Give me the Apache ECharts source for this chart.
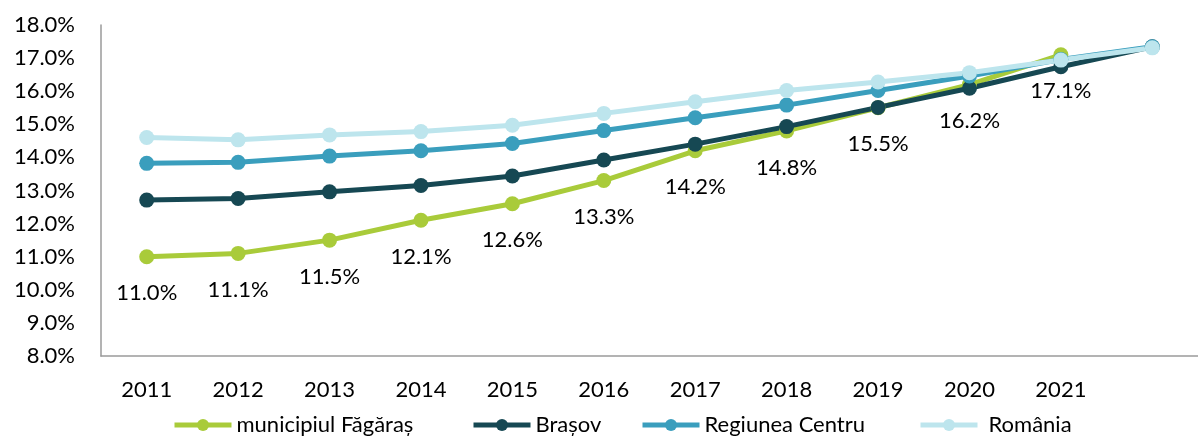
<!DOCTYPE html>
<html lang="ro">
  <head>
    <meta charset="UTF-8" />
    <title>Ponderea populatiei</title>
    <script src="https://cdn.jsdelivr.net/npm/echarts@6/dist/echarts.min.js"></script>
    <style>
      html, body { margin: 0; padding: 0; background: #fff; }
    </style>
  </head>
  <body>
    <div id="chart" style="width: 1198px; height: 436px"></div>
    <script>
      // ani; ultima categorie nu are eticheta in original
      const years = ['2011', '2012', '2013', '2014', '2015', '2016', '2017', '2018', '2019', '2020', '2021', ''];
      const fagaras = [11.0, 11.1, 11.5, 12.1, 12.6, 13.3, 14.2, 14.8, 15.5, 16.2, 17.1, null];
      const brasov = [12.71, 12.76, 12.96, 13.15, 13.44, 13.92, 14.4, 14.93, 15.51, 16.09, 16.74, 17.34];
      const centru = [13.82, 13.85, 14.04, 14.2, 14.42, 14.81, 15.2, 15.58, 16.02, 16.46, 16.96, 17.34];
      const romania = [14.6, 14.53, 14.68, 14.78, 14.97, 15.33, 15.68, 16.02, 16.28, 16.56, 16.94, 17.31];
      const names = ['municipiul Făgăraș', 'Brașov', 'Regiunea Centru', 'România'];

      const font = 'Lato';
      const chart = echarts.init(document.getElementById('chart'));

      function line(name, data, color, withLabel) {
        return {
          name: name,
          type: 'line',
          data: data,
          symbol: 'circle',
          symbolSize: 15,
          lineStyle: { width: 5, color: color },
          itemStyle: { color: color },
          label: {
            show: withLabel,
            position: 'bottom',
            distance: 18,
            color: '#000',
            fontFamily: font,
            fontSize: 22,
            formatter: function (p) {
              return p.value.toFixed(1) + '%';
            }
          },
          animation: false
        };
      }

      // one legend per item so the spacing follows the original
      const legendLeft = [167, 466, 635, 913];
      const legends = names.map(function (n, i) {
        return {
          data: [n],
          left: legendLeft[i],
          top: 409,
          itemWidth: 57,
          itemHeight: 15,
          lineStyle: { width: 5 },
          textStyle: { fontFamily: font, fontSize: 22, color: '#000', padding: [0, 0, 0, i === 3 ? 6 : 0] }
        };
      });

      const option = {
        grid: { left: 101, right: -15, top: 25, bottom: 80 },
        legend: legends,
        xAxis: {
          type: 'category',
          data: years,
          boundaryGap: true,
          axisLine: { lineStyle: { color: '#9a9a9a', width: 1.5 } },
          axisTick: { show: false },
          axisLabel: { fontFamily: font, fontSize: 22, color: '#000', margin: 23, interval: 0 }
        },
        yAxis: {
          type: 'value',
          min: 8,
          max: 18,
          interval: 1,
          splitLine: { show: false },
          axisLine: { show: true, lineStyle: { color: '#9a9a9a', width: 1.5 } },
          axisTick: { show: false },
          axisLabel: {
            fontFamily: font,
            fontSize: 22,
            color: '#000',
            margin: 26,
            formatter: function (v) {
              return v.toFixed(1) + '%';
            }
          }
        },
        series: [
          line(names[0], fagaras, '#a9cb3a', true),
          line(names[1], brasov, '#164853', false),
          line(names[2], centru, '#3a9ebd', false),
          line(names[3], romania, '#bde5ed', false)
        ]
      };
      chart.setOption(option);
    </script>
  </body>
</html>
